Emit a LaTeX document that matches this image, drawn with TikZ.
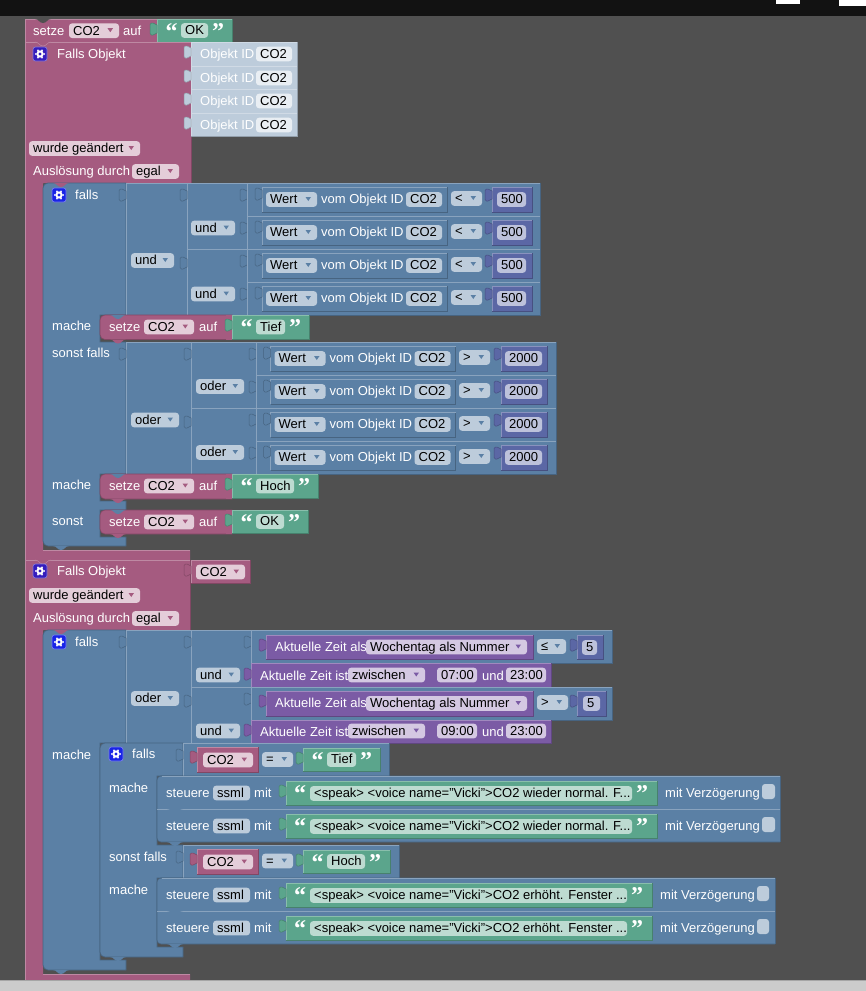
\documentclass[tikz,border=0pt]{standalone}
\usepackage{fontspec}
\setmainfont{Liberation Sans}
\newfontfamily\qfont{Liberation Serif}
\definecolor{bgc}{HTML}{505050}
\definecolor{pk}{HTML}{A55B80}
\definecolor{bl}{HTML}{5B80A5}
\definecolor{gr}{HTML}{5BA58C}
\definecolor{vi}{HTML}{7B5BA5}
\definecolor{nm}{HTML}{5B67A5}
\definecolor{ob}{HTML}{BDCCDB}
\definecolor{fpk}{HTML}{E4CDD9}
\definecolor{fbl}{HTML}{BDCCDB}
\definecolor{fgr}{HTML}{BDDBD1}
\definecolor{fvi}{HTML}{D4C8E2}
\definecolor{fnm}{HTML}{BDC2DB}
\definecolor{fob}{HTML}{E9EEF3}
\tikzset{
 lab/.style={inner sep=0pt,anchor=base west,font=\fontsize{13}{15}\selectfont},
 wlab/.style={lab,text=white},
 blab/.style={lab,text=black},
 qm/.style={inner sep=0pt,anchor=base west,text=white,font=\qfont\bfseries\fontsize{24}{24}\selectfont},
 fieldbox/.style={rounded corners=3pt},
}
\newcount\nn
\newcommand{\wt}[3]{\global\advance\nn by 1 \node[wlab] (n\the\nn) at ({#1},{#2}) {#3};}
\newcommand{\bt}[3]{\global\advance\nn by 1 \node[blab] (n\the\nn) at ({#1},{#2}) {#3};}
\newcommand{\qt}[3]{\global\advance\nn by 1 \node[qm] (n\the\nn) at ({#1},{#2}) {#3};}
% plain block: x1 y1 x2 y2 col
\newcommand{\bx}[5]{\fill[#5] ({#1},{#2}) rectangle ({#3},{#4});
 \draw[#5!78!black,line width=.7pt] ({#3},{#2}) -- ({#3},{#4}) -- ({#1},{#4});
 \draw[#5!72!white,line width=.7pt] ({#1},{#4}) -- ({#1},{#2}) -- ({#3},{#2});}
% field without / with arrow: x1 x2 ymid col text
\newcommand{\fd}[5]{\fill[#4,fieldbox] ({#1},{#3-7.3}) rectangle ({#2},{#3+7.3}); \bt{#1+4}{#3+4.4}{#5}}
\newcommand{\fa}[6]{\fd{#1}{#2}{#3}{#4}{#5}\fill[#6] ({#2-11.5},{#3-2.5}) -- ({#2-6},{#3-2.5}) -- ({#2-8.7},{#3+1.5}) -- cycle;}
% value tab: x y col
\newcommand{\tb}[3]{\fill[#3,draw=#3!78!black,line width=.5pt] ({#1},{#2+6}) .. controls ({#1-2},{#2+6}) and ({#1-2},{#2+4}) .. ({#1-4},{#2+4}) -- ({#1-5.5},{#2+4}) .. controls ({#1-7},{#2+4}) and ({#1-7},{#2+6}) .. ({#1-7},{#2+8}) -- ({#1-7},{#2+12}) .. controls ({#1-7},{#2+14}) and ({#1-7},{#2+16}) .. ({#1-5.5},{#2+16}) -- ({#1-4},{#2+16}) .. controls ({#1-2},{#2+16}) and ({#1-2},{#2+14}) .. ({#1},{#2+14}) -- cycle;}
% statement notch bump: x y col
\newcommand{\nc}[3]{\fill[#3] ({#1},{#2}) .. controls ({#1+4},{#2}) and ({#1+4},{#2+4}) .. ({#1+8},{#2+4}) .. controls ({#1+12},{#2+4}) and ({#1+12},{#2}) .. ({#1+16},{#2}) -- cycle;}
% gear: x y col (top left)
\newcommand{\gear}[3]{\fill[#3,draw=#3!60!white,line width=.7pt,rounded corners=2.5pt] ({#1},{#2}) rectangle ({#1+14},{#2+14});
 \fill[white] ({#1+7},{#2+7}) circle (3.7pt);
 \foreach \a in {0,60,...,300}{\fill[white] ({#1+7+4.2*cos(\a)},{#2+7+4.2*sin(\a)}) circle (1pt);}
 \fill[#3] ({#1+7},{#2+7}) circle (1.7pt);}
% text block: x1 x2 y1 y2 fieldx1 fieldx2 text
\newcommand{\gtx}[7]{\bx{#1}{#3}{#2}{#4}{gr}\tb{#1}{#3}{gr}
 \qt{#1+8.5}{#3+20}{“}
 \fd{#5}{#6}{(#3+#4)/2}{fgr}{#7}
 \qt{#6+4}{#3+20}{”}}
% setze statement: x1 x2 y1 y2
\newcommand{\szb}[4]{\fill[pk,draw=pk!78!black,line width=.6pt,rounded corners=5pt] (#1,#3) rectangle ({#2+5},#4);
 \fill[pk] ({#2-6},#3) rectangle (#2,#4);
 \nc{#1+10}{#3}{bl}\nc{#1+10}{#4}{pk}
 \wt{#1+9}{#3+16.5}{setze}
 \fa{#1+44}{#1+94}{#3+12}{fpk}{CO2}{pk}
 \wt{#1+99}{#3+16.5}{auf}}
% value compare row: g(get x) y xc xc2 op opx1 opx2 nx1 nx2
\newcommand{\wrow}[9]{\bx{#3}{#2}{#4}{#2+33}{bl}
 \bx{#1}{#2+4}{#1+185}{#2+29}{bl}\tb{#1}{#2+1}{bl}
 \fa{#1+4}{#1+55}{#2+16.5}{fbl}{Wert}{bl}
 \wt{#1+59}{#2+20.7}{vom Objekt ID}
 \fd{#1+144}{#1+180}{#2+16.5}{fbl}{CO2}
 \fa{#6}{#7}{#2+15.5}{fbl}{#5}{bl}
 \bx{#8}{#2+4}{#9}{#2+29}{nm}\tb{#8}{#2+2}{nm}}
\begin{document}
\begin{tikzpicture}[x=1pt,y=-1pt]
\useasboundingbox (0,0) rectangle (866,991);
\fill[bgc] (0,0) rectangle (866,991);
\fill[black!93] (0,0) rectangle (866,16);
\fill[white] (776,0) rectangle (800,4);
\fill[white] (839,0) rectangle (866,6);
% ---- first setze
\bx{25}{19}{157}{42}{pk}
\fill[bgc] (35,19) .. controls (39,19) and (39,23) .. (43,23) .. controls (47,23) and (47,19) .. (51,19) -- cycle;
\wt{33}{35}{setze}\fa{69}{119}{30.7}{fpk}{CO2}{pk}\wt{123}{35}{auf}
\gtx{157}{232}{19}{42}{181}{208}{OK}
% ---- pink C blocks
\fill[pk] (25,42) -- (191,42) -- (191,183) -- (43,183) -- (43,550) -- (190,550) -- (190,560) -- (25,560) -- cycle;
\draw[pk!72!white,line width=.7pt] (25,560) -- (25,42) -- (191,42);
\draw[pk!72!white,line width=.7pt] (43,550) -- (190,550);
\draw[pk!78!black,line width=.7pt] (191,42) -- (191,183);
\fill[pk] (25,560) -- (190,560) -- (190,630) -- (43,630) -- (43,974) -- (190,974) -- (190,982) -- (25,982) -- cycle;
\draw[pk!72!white,line width=.7pt] (25,982) -- (25,560) -- (190,560);
\draw[pk!72!white,line width=.7pt] (43,974) -- (190,974);
\draw[pk!78!black,line width=.7pt] (190,560) -- (190,630);
\nc{35}{42}{pk}\draw[pk!72!white,line width=.5pt] (35,42) .. controls (39,42) and (39,46) .. (43,46) .. controls (47,46) and (47,42) .. (51,42);
\nc{35}{560}{pk}\draw[pk!72!white,line width=.5pt] (35,560) .. controls (39,560) and (39,564) .. (43,564) .. controls (47,564) and (47,560) .. (51,560);
\gear{33}{47}{blue!65!pk!90!black}\wt{57}{58.5}{Falls Objekt}
\gear{33}{564}{blue!65!pk!90!black}\wt{57}{575.5}{Falls Objekt}
% Objekt ID
\foreach \yy/\yb in {42/66,66/89,89/113,113/136}{
 \bx{191}{\yy}{297}{\yb}{ob}\tb{191}{\yy}{ob}
 \wt{200}{\yy+16.5}{Objekt ID}
 \fd{256}{292}{\yy+12}{fob}{CO2}
}
\fa{29}{140}{148.5}{fpk}{wurde geändert}{pk}
\wt{33}{175.5}{Auslösung durch}\fa{132}{179}{171.5}{fpk}{egal}{pk}
\fa{29}{140}{595.5}{fpk}{wurde geändert}{pk}
\wt{33}{622}{Auslösung durch}\fa{132}{179}{618.5}{fpk}{egal}{pk}
\bx{191}{560}{250}{583}{pk}\tb{191}{560}{pk}\fa{196}{245}{572}{fpk}{CO2}{pk}
% ---- blue falls 1
\path[fill=bl,draw=bl!78!black,line width=.7pt] (43,300) [rounded corners=5pt] -- (43,183) [sharp corners] -- (126,183) -- (126,315) -- (100,315) -- (100,342) -- (126,342) -- (126,474) -- (100,474) -- (100,501) -- (126,501) -- (126,510) -- (100,510) -- (100,537) -- (126,537) -- (126,546) [rounded corners=5pt] -- (43,546) -- cycle;
\nc{53}{183}{pk}\nc{53}{546}{bl}
\gear{52}{188}{blue!72!bl}\wt{75}{199.5}{falls}
\wt{52}{330.5}{mache}\wt{52}{357.5}{sonst falls}\wt{52}{489}{mache}\wt{52}{525.5}{sonst}
% und group
\bx{126}{183}{187}{315}{bl}\bx{187}{183}{247}{249}{bl}\bx{187}{249}{247}{315}{bl}
\tb{126}{185}{bl}\tb{187}{185}{bl}\tb{247}{185}{bl}\tb{187}{253}{bl}\tb{247}{218}{bl}\tb{247}{251}{bl}\tb{247}{284}{bl}
\fa{131}{174}{260.5}{fbl}{und}{bl}\fa{191}{235}{228}{fbl}{und}{bl}\fa{191}{235}{294}{fbl}{und}{bl}
\foreach \yy in {183,216,249,282}{
 \wrow{262}{\yy}{247}{540}{<}{451}{482}{492}{532}
 \fd{497}{526}{\yy+16.5}{fnm}{500}
}
% oder group
\bx{126}{342}{191}{474}{bl}\bx{191}{342}{256}{408}{bl}\bx{191}{408}{256}{474}{bl}
\tb{126}{344}{bl}\tb{191}{344}{bl}\tb{256}{344}{bl}\tb{191}{412}{bl}\tb{256}{377}{bl}\tb{256}{410}{bl}\tb{256}{443}{bl}
\fa{131}{179}{420}{fbl}{oder}{bl}\fa{196}{244}{386.5}{fbl}{oder}{bl}\fa{196}{244}{452.5}{fbl}{oder}{bl}
\foreach \yy in {342,375,408,441}{
 \wrow{270.5}{\yy}{256}{556}{>}{459}{490}{501}{547}
 \fd{505}{542}{\yy+16.5}{fnm}{2000}
}
% statements
\szb{100}{232}{315}{339.5}\gtx{232}{309}{315}{339}{256}{285}{Tief}
\szb{100}{232}{474}{499}\gtx{232}{318}{474}{498}{256}{294}{Hoch}
\szb{100}{232}{510}{534}\gtx{232}{308}{510}{533}{256}{284}{OK}
% ---- blue falls 2
\path[fill=bl,draw=bl!78!black,line width=.7pt] (43,800) [rounded corners=5pt] -- (43,630) [sharp corners] -- (126,630) -- (126,743) -- (100,743) -- (100,960) -- (126,960) -- (126,970) [rounded corners=5pt] -- (43,970) -- cycle;
\nc{53}{630}{pk}\nc{53}{970}{bl}
\gear{52}{635}{blue!72!bl}\wt{75}{646.5}{falls}\wt{52}{759}{mache}
\bx{126}{630}{191}{743}{bl}\bx{191}{630}{251}{687}{bl}\bx{191}{687}{251}{743}{bl}
\tb{126}{632}{bl}\tb{191}{632}{bl}\tb{251}{632}{bl}\tb{191}{691}{bl}\tb{251}{689}{bl}
\fa{131}{179}{698.5}{fbl}{oder}{bl}\fa{196}{240}{675}{fbl}{und}{bl}\fa{196}{240}{731}{fbl}{und}{bl}
% compare rows with time
\bx{251}{630}{612}{663}{bl}
\bx{266}{635}{533}{659}{vi}\tb{266}{635}{vi}\wt{275}{651.5}{Aktuelle Zeit als}
\fa{366}{527}{647}{fvi}{Wochentag als Nummer}{vi}
\fa{537}{566}{646.5}{fbl}{≤}{bl}
\bx{577}{635}{603}{659}{nm}\tb{577}{635}{nm}\fd{582}{597}{647.5}{fnm}{5}
\bx{251}{663}{551}{687}{vi}\tb{251}{664}{vi}\wt{260}{680}{Aktuelle Zeit ist}
\fa{348}{425}{675}{fvi}{zwischen}{vi}\fd{437}{477}{675}{fvi}{07:00}\wt{482}{680}{und}\fd{506}{546}{675}{fvi}{23:00}
\bx{251}{687}{612}{720}{bl}
\bx{266}{691}{533}{716}{vi}\tb{266}{691}{vi}\wt{275}{707.5}{Aktuelle Zeit als}
\fa{366}{527}{703.5}{fvi}{Wochentag als Nummer}{vi}
\fa{537}{568}{702.5}{fbl}{>}{bl}
\bx{577}{691}{606}{716}{nm}\tb{577}{691}{nm}\fd{583}{600}{703.5}{fnm}{5}
\bx{251}{720}{551}{743}{vi}\tb{251}{720}{vi}\wt{260}{736}{Aktuelle Zeit ist}
\fa{348}{425}{731}{fvi}{zwischen}{vi}\fd{437}{477}{731}{fvi}{09:00}\wt{482}{736}{und}\fd{506}{546}{731}{fvi}{23:00}
% ---- inner falls
\path[fill=bl,draw=bl!78!black,line width=.7pt] (100,850) [rounded corners=5pt] -- (100,743) [sharp corners] -- (183,743) -- (183,776) -- (157,776) -- (157,845) -- (183,845) -- (183,878) -- (157,878) -- (157,947) -- (183,947) -- (183,957) [rounded corners=5pt] -- (100,957) -- cycle;
\nc{110}{957}{bl}
\gear{109}{747}{blue!72!bl}\wt{132}{758}{falls}\wt{109}{792}{mache}\wt{109}{861}{sonst falls}\wt{109}{894}{mache}
\bx{183}{743}{389}{776}{bl}\tb{183}{745}{bl}
\bx{197}{747}{258}{772}{pk}\tb{197}{747}{pk}\fa{203}{253}{760}{fpk}{CO2}{pk}
\fa{262}{293}{759.5}{fbl}{=}{bl}
\gtx{303}{380}{748}{771}{327}{356}{Tief}
\bx{183}{845}{399}{878}{bl}\tb{183}{847}{bl}
\bx{197}{849}{258}{874}{pk}\tb{197}{849}{pk}\fa{203}{253}{862}{fpk}{CO2}{pk}
\fa{262}{293}{861}{fbl}{=}{bl}
\gtx{303}{390}{850}{873}{327}{365}{Hoch}
% steuere stacks
\fill[bl,draw=bl!78!black,line width=.6pt,rounded corners=4pt] (157,776) rectangle (790,842);
\fill[bgc] (780,775) rectangle (791,843);
\draw[bl!78!black,line width=.7pt] (780,776) -- (780,842);
\draw[bl!72!white,line width=.7pt] (162,776) -- (780,776) (157,809) -- (780,809);
\fill[bl,draw=bl!78!black,line width=.6pt,rounded corners=4pt] (157,878) rectangle (785,944);
\fill[bgc] (775,877) rectangle (786,945);
\draw[bl!78!black,line width=.7pt] (775,878) -- (775,944);
\draw[bl!72!white,line width=.7pt] (162,878) -- (775,878) (157,911) -- (775,911);
\foreach \yy in {776,809}{
 \nc{167}{\yy+33}{bl}
 \wt{166}{\yy+21}{steuere}\fd{213}{250}{\yy+17}{fbl}{ssml}\wt{254}{\yy+21}{mit}
 \bx{286}{\yy+5}{657}{\yy+29}{gr}\tb{286}{\yy+5}{gr}
 \qt{294}{\yy+25}{“}
 \fd{310}{632}{\yy+17.5}{fgr}{<speak> <voice name="Vicki">CO2 wieder normal. F...}
 \qt{636}{\yy+25}{”}
 \wt{665}{\yy+21}{mit Verzögerung}
 \fill[fbl,rounded corners=3pt] (762,\yy+8) rectangle (775,\yy+23);
}
\foreach \yy in {878,911}{
 \nc{167}{\yy+33}{bl}
 \wt{166}{\yy+21}{steuere}\fd{213}{250}{\yy+17}{fbl}{ssml}\wt{254}{\yy+21}{mit}
 \bx{286}{\yy+5}{652}{\yy+29}{gr}\tb{286}{\yy+5}{gr}
 \qt{294}{\yy+25}{“}
 \fd{310}{627}{\yy+17.5}{fgr}{<speak> <voice name="Vicki">CO2 erhöht. Fenster ...}
 \qt{631}{\yy+25}{”}
 \wt{660}{\yy+21}{mit Verzögerung}
 \fill[fbl,rounded corners=3pt] (757,\yy+8) rectangle (769,\yy+23);
}
% bottom bar
\fill[black!20] (0,980) rectangle (866,991);
\fill[black!35] (0,980) rectangle (866,981);
\end{tikzpicture}
\end{document}
